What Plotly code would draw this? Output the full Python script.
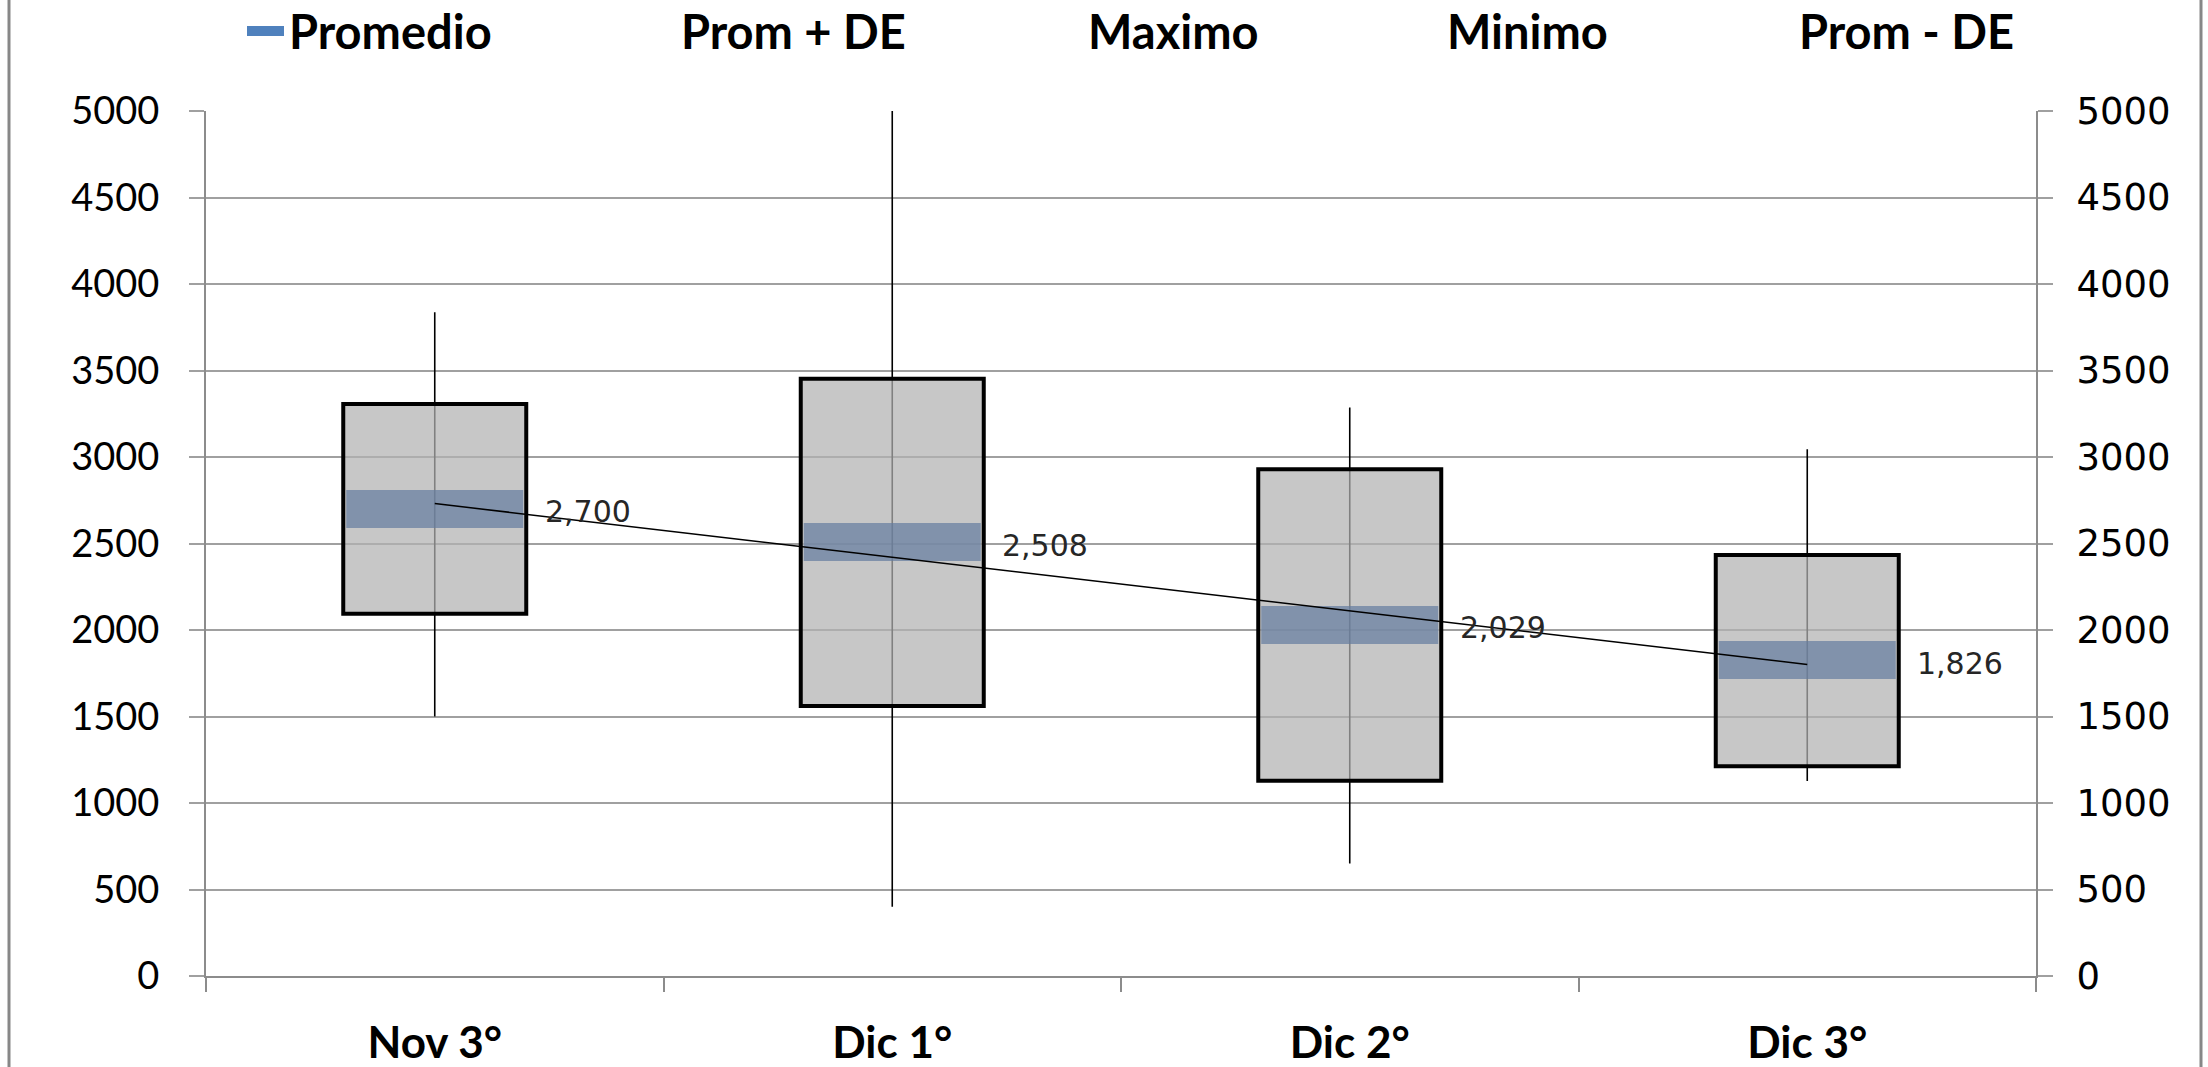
import numpy as np
import plotly.graph_objects as go

# ---- data -------------------------------------------------------------
categories = ["Nov 3°", "Dic 1°", "Dic 2°", "Dic 3°"]
promedio = [2700, 2508, 2029, 1826]
prom_mas_de = [3306, 3453, 2929, 2434]
prom_menos_de = [2094, 1560, 1129, 1212]
maximo = [3836, 5000, 3286, 3045]
minimo = [1500, 400, 650, 1127]
y_ticks = list(range(0, 5001, 500))

# ---- geometry / style ---------------------------------------------------
W, H = 2208, 1067
M_L, M_R, M_T, M_B = 206, 172, 111, 91
PLOT_W = W - M_L - M_R
PLOT_H = H - M_T - M_B
CAT_PX = PLOT_W / len(categories)
BOX_WIDTH = 0.4
LINE_EW_SCALE = 1.4          # plotly draws line-ew markers 1.4x their size
GRID = "#A0A0A0"
AXIS = "#8C8C8C"
BOX_FILL = "rgba(178,178,178,0.72)"
BAND = "rgba(100,124,160,0.70)"
LEGEND_BLUE = "#4F81BD"
LEGEND_ITEM = 37             # legend symbol area width

fig = go.Figure()

# whiskers (min..max) on the base axis, so the boxes on the overlay cover them
fig.add_trace(go.Scatter(
    x=categories, y=promedio, mode="markers",
    marker=dict(size=1, color="rgba(0,0,0,0)"),
    error_y=dict(type="data", symmetric=False,
                 array=[mx - p for mx, p in zip(maximo, promedio)],
                 arrayminus=[p - mn for p, mn in zip(promedio, minimo)],
                 width=0, thickness=1.6, color="black"),
    showlegend=False, hoverinfo="skip"))

# boxes: mean +/- standard deviation
fig.add_trace(go.Bar(
    x=categories,
    y=[hi - lo for hi, lo in zip(prom_mas_de, prom_menos_de)],
    base=prom_menos_de, width=BOX_WIDTH,
    marker=dict(color=BOX_FILL, line=dict(color="black", width=4)),
    yaxis="y2", showlegend=False, hoverinfo="skip"))

# mean band across each box
band_px = BOX_WIDTH * CAT_PX - 6
fig.add_trace(go.Scatter(
    x=categories, y=promedio, mode="markers", name="Promedio",
    marker=dict(symbol="line-ew", size=band_px / LINE_EW_SCALE,
                color=BAND, line=dict(color=BAND, width=38)),
    yaxis="y2", showlegend=False, hoverinfo="skip"))

# linear trend of the means
xi = np.arange(len(promedio))
slope, icpt = np.polyfit(xi, promedio, 1)
fig.add_trace(go.Scatter(
    x=categories, y=icpt + slope * xi, mode="lines",
    line=dict(color="black", width=1.5),
    yaxis="y2", showlegend=False, hoverinfo="skip"))

# legend entries
legend_widths = [340, 355, 307, 300, 230]
fig.add_trace(go.Scatter(
    x=[None], y=[None], name="Promedio", mode="lines",
    line=dict(color=LEGEND_BLUE, width=10),
    legendwidth=legend_widths[0], hoverinfo="skip"))
for (name, vals), lw in zip(
        [("Prom + DE", prom_mas_de), ("Maximo", maximo),
         ("Minimo", minimo), ("Prom - DE", prom_menos_de)],
        legend_widths[1:]):
    fig.add_trace(go.Scatter(
        x=categories, y=vals, name=name, mode="lines",
        line=dict(color="rgba(0,0,0,0)", width=0),
        legendwidth=lw, hoverinfo="skip"))

# value labels next to each box
for c, p in zip(categories, promedio):
    fig.add_annotation(
        x=c, y=p, yref="y2", text=f"{p:,}", showarrow=False,
        xanchor="left", yanchor="middle", xshift=108, yshift=-3,
        font=dict(family="DejaVu Sans", size=30, color="#262626"))

# outer chart frame edges
for px in (9, 2201):
    xp = (px - M_L) / PLOT_W
    fig.add_shape(type="line", xref="paper", yref="paper",
                  x0=xp, x1=xp, y0=-0.2, y1=1.2,
                  line=dict(color="#878787", width=3))

fig.update_layout(
    width=W, height=H,
    margin=dict(l=M_L, r=M_R, t=M_T, b=M_B, autoexpand=False),
    paper_bgcolor="white", plot_bgcolor="white",
    barmode="overlay",
    showlegend=True,
    legend=dict(orientation="h", xref="container", yref="paper",
                x=(289 - LEGEND_ITEM - 10) / W, xanchor="left",
                y=1 + (M_T + 6) / PLOT_H, yanchor="top",
                itemwidth=LEGEND_ITEM,
                font=dict(family="Lato", size=47, color="black", weight="bold"),
                itemsizing="trace", bgcolor="rgba(0,0,0,0)",
                traceorder="normal"),
    xaxis=dict(type="category", range=[-0.5, len(categories) - 0.5],
               tickson="boundaries", ticks="outside", ticklen=14,
               tickcolor=AXIS, tickwidth=1.5,
               showline=True, linecolor=AXIS, linewidth=2,
               showgrid=False, ticklabelstandoff=27,
               tickfont=dict(family="Lato", size=44, color="black", weight="bold")),
    yaxis=dict(range=[0, 5000], tickvals=y_ticks,
               showgrid=True, gridcolor=GRID, gridwidth=1.5,
               zeroline=False, showline=True, linecolor=AXIS, linewidth=2,
               ticks="outside", ticklen=15, tickcolor=GRID, tickwidth=1.5,
               ticklabelstandoff=22,
               tickfont=dict(family="Lato", size=38, color="black")),
    yaxis2=dict(range=[0, 5000], tickvals=y_ticks, overlaying="y",
                side="right", anchor="x",
                showgrid=False, zeroline=False,
                showline=True, linecolor=AXIS, linewidth=2,
                ticks="outside", ticklen=15, tickcolor=GRID, tickwidth=1.5,
                ticklabelstandoff=16,
                tickfont=dict(family="DejaVu Sans", size=37, color="black")),
)

fig.write_html("out.html")
